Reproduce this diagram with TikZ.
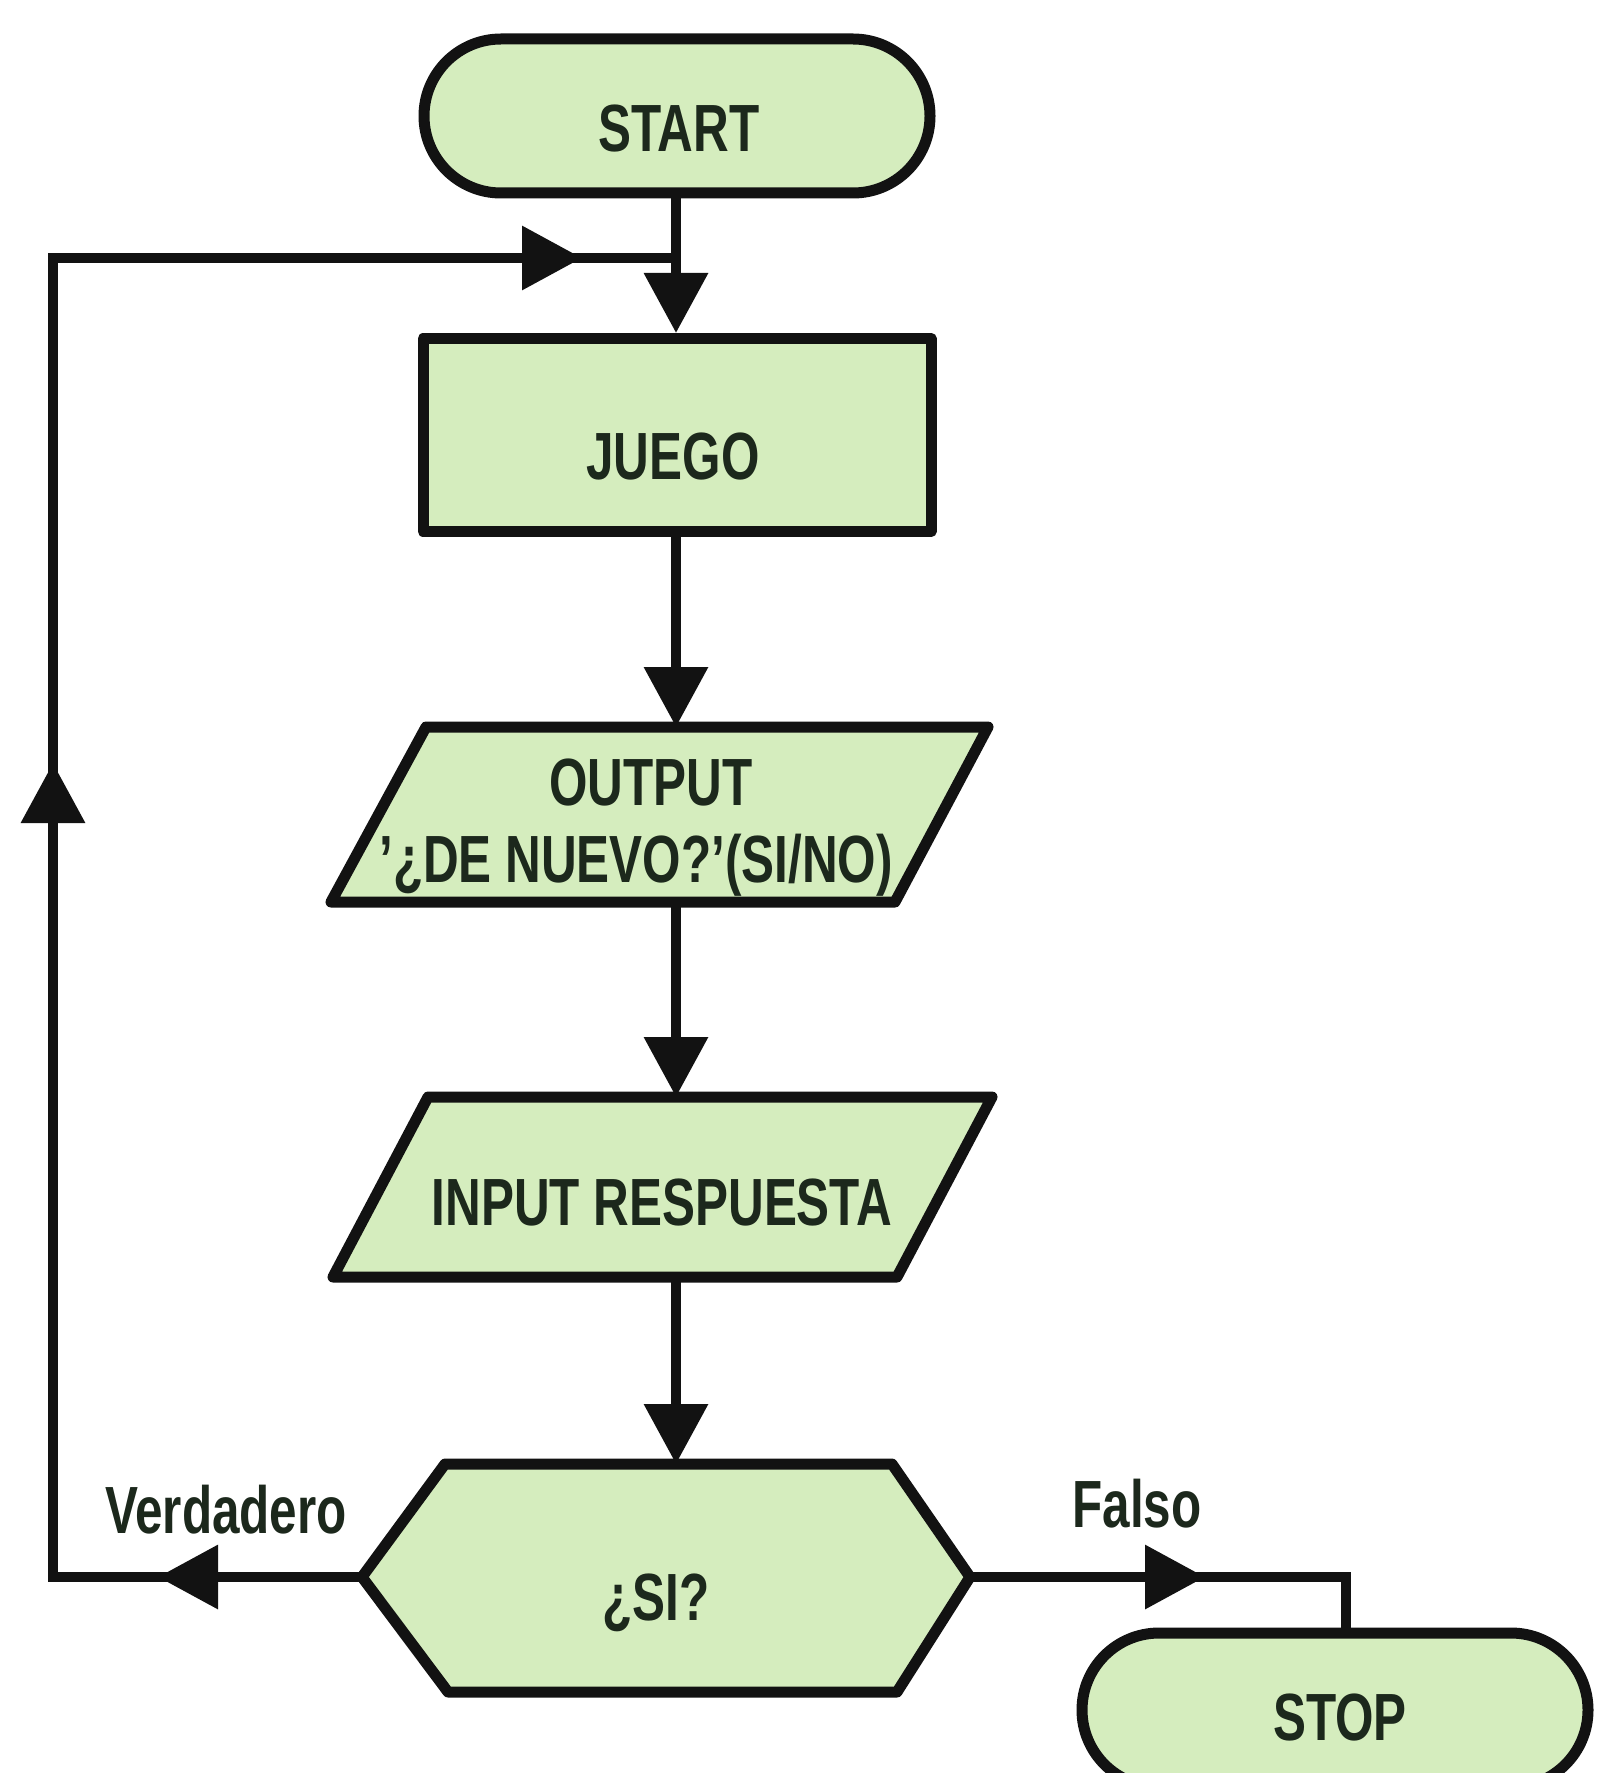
\documentclass[tikz,border=0pt]{standalone}
\usepackage{fontspec}
\setmainfont{Liberation Sans}[FakeStretch=0.74]
\usetikzlibrary{arrows.meta}
\definecolor{boxfill}{RGB}{213,237,190}
\definecolor{ink}{RGB}{18,18,18}
\definecolor{txt}{RGB}{28,40,28}
\begin{document}
\begin{tikzpicture}[
  shapeline/.style={draw=ink, line width=1.1mm, fill=boxfill, line join=round},
  conn/.style={draw=ink, line width=1mm},
  arr/.style={conn, -{Triangle[length=6mm,width=6.2mm]}},
  lbl/.style={font=\fontsize{19}{22}\selectfont\bfseries, text=txt, inner sep=0pt, anchor=base}]
\useasboundingbox (0,0) rectangle (15.97,-17.73);

% shapes
\node[shapeline, rounded corners=7.7mm, minimum width=5.06cm, minimum height=1.54cm] (start) at (6.77,-1.16) {};
\node[shapeline, minimum width=5.08cm, minimum height=1.93cm] (juego) at (6.77,-4.35) {};
\coordinate (oTL) at (4.26,-7.27);
\coordinate (oTR) at (9.88,-7.27);
\coordinate (oBR) at (8.95,-9.02);
\coordinate (oBL) at (3.31,-9.02);
\path[shapeline] (oTL) -- (oTR) -- (oBR) -- (oBL) -- cycle;
\coordinate (iTL) at (4.28,-10.97);
\coordinate (iTR) at (9.92,-10.97);
\coordinate (iBR) at (8.97,-12.77);
\coordinate (iBL) at (3.33,-12.77);
\path[shapeline] (iTL) -- (iTR) -- (iBR) -- (iBL) -- cycle;
\coordinate (hL) at (3.62,-15.77);
\coordinate (hTL) at (4.45,-14.64);
\coordinate (hTR) at (8.92,-14.64);
\coordinate (hR) at (9.70,-15.77);
\coordinate (hBR) at (8.97,-16.92);
\coordinate (hBL) at (4.48,-16.92);
\path[shapeline] (hL) -- (hTL) -- (hTR) -- (hR) -- (hBR) -- (hBL) -- cycle;
\node[shapeline, rounded corners=7.7mm, minimum width=5.06cm, minimum height=1.54cm] (stop) at (13.35,-17.10) {};

% texts
\node[lbl] (tstart) at (6.79,-1.52) {START};
\node[lbl] (tjuego) at (6.73,-4.79) {JUEGO};
\node[lbl] (tout1) at (6.51,-8.05) {OUTPUT};
\node[lbl] (tout2) at (6.36,-8.82) {’¿DE NUEVO?’(SI/NO)};
\node[lbl] (tinput) at (6.62,-12.25) {INPUT RESPUESTA};
\node[lbl] (tsi) at (6.56,-16.20) {¿SI?};
\node[lbl] (tverd) at (2.26,-15.33) {Verdadero};
\node[lbl] (tfalso) at (11.37,-15.27) {Falso};
\node[lbl] (tstop) at (13.40,-17.40) {STOP};

% connector points
\coordinate (col1) at (6.76,-1.93);
\coordinate (jn) at (6.76,-2.58);
\coordinate (cTL) at (0.53,-2.58);
\coordinate (cBL) at (0.53,-15.77);
\coordinate (rTip) at (5.82,-2.58);
\coordinate (upTip) at (0.53,-7.63);
\coordinate (lTip) at (1.58,-15.77);
\coordinate (fR) at (13.46,-15.77);
\coordinate (fTip) at (12.05,-15.77);
\coordinate (c2) at (6.76,-5.32);
\coordinate (c2e) at (6.76,-7.27);
\coordinate (c3) at (6.76,-9.02);
\coordinate (c3e) at (6.76,-10.97);
\coordinate (c4) at (6.76,-12.77);
\coordinate (c4e) at (6.76,-14.64);

% main column
\draw[arr] (col1) -- (juego.north -| col1);
\draw[arr] (c2) -- (c2e);
\draw[arr] (c3) -- (c3e);
\draw[arr] (c4) -- (c4e);

% loop back (Verdadero)
\draw[conn] (hL) -- (cBL) -- (cTL) -- (jn);
\draw[arr] (hL) -- (lTip);
\draw[arr] (cBL) -- (upTip);
\draw[arr] (cTL) -- (rTip);

% Falso
\draw[conn] (hR) -- (fR) -- (fR |- stop.north);
\draw[arr] (hR) -- (fTip);
\end{tikzpicture}
\end{document}
